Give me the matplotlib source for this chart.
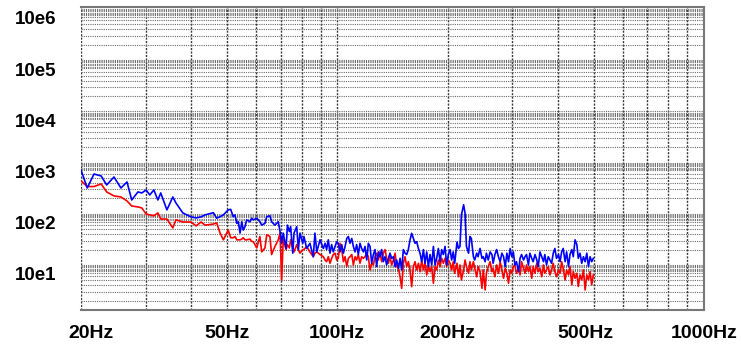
import numpy as np
import matplotlib.pyplot as plt
from matplotlib.ticker import FixedLocator, NullFormatter
from matplotlib.transforms import ScaledTranslation

plt.rcParams['font.family'] = ['Liberation Sans', 'DejaVu Sans']

# spectrum bins (Hz)
freq_hz = [
    20.0, 20.8, 21.7, 22.7, 23.5, 24.6, 25.7, 26.7, 27.5, 28.6, 29.3, 30.1,
    30.8, 31.6, 32.4, 33.0, 34.3, 35.6, 36.3, 37.9, 39.9, 41.2, 42.5,
    43.6, 45.9, 46.9, 47.9, 48.9, 50.4, 51.2, 52.0, 52.6, 53.2, 53.7, 54.3,
    54.9, 55.4, 56.0, 56.6, 57.8, 58.4, 59.0, 60.3, 61.5, 62.2, 63.5, 64.2,
    65.5, 66.2, 67.6, 69.0, 69.8, 70.5, 71.2, 72.5, 73.1, 74.0, 74.6, 75.6,
    76.2, 77.5, 78.3, 79.1, 80.5, 81.1, 82.5, 84.2, 86.0, 86.9, 87.9, 89.7, 91.6,
    92.6, 93.5, 94.5, 95.5, 96.5, 97.5, 98.6, 99.6, 100.6, 101.7, 102.8, 103.9,
    105.0, 106.1, 107.2, 108.3, 109.5, 110.6, 111.8, 112.9, 114.1, 115.3, 116.5,
    117.8, 119.0, 120.3, 121.5, 122.8, 124.1, 125.4, 126.7, 128.0, 129.4, 130.7,
    132.1, 133.5, 134.9, 136.3, 137.8, 139.2, 140.7, 142.2, 143.7, 145.2, 146.7,
    148.3, 149.8, 151.4, 153.0, 154.6, 156.2, 157.9, 159.5, 161.2, 162.9, 164.6,
    166.4, 168.1, 169.9, 171.7, 173.4, 175.3, 177.1, 179.0, 180.9, 182.8, 184.7,
    186.6, 188.6, 190.6, 192.6, 194.6, 196.7, 198.7, 200.8,
    203, 205, 207, 209, 212, 214, 216, 218, 221, 223, 225, 228, 230, 232, 235,
    237, 240, 242, 245, 248, 250, 253, 255, 258, 261, 264, 266, 269, 272, 275,
    278, 281, 284, 287, 290, 293, 296, 299, 302, 305, 308, 312, 315, 318, 322,
    325, 328, 332, 335, 339, 342, 346, 350, 353, 357, 361, 365, 368, 372, 376,
    380, 384, 388, 392, 396, 401, 405, 409, 413, 418, 422, 427, 431, 436, 440,
    445, 450, 454, 459, 464, 469, 474, 479, 484, 489, 494, 499,
]

blue_level = [
    716, 319, 598, 547, 365, 523, 319, 418, 186, 267, 255, 292,
    233, 292, 186, 255, 119, 213, 163, 104, 87, 83, 87,
    95, 105, 82, 88, 95, 119, 122, 88, 95, 65, 70, 42,
    70, 48, 56, 76, 70, 82, 76, 82, 70, 60, 65, 88,
    91, 70, 60, 70, 45, 26.5, 42, 21, 60, 45, 56, 17,
    42, 56, 20, 42, 26.5, 36, 21, 26.5, 14.5, 42, 18, 31, 21,
    26.5, 20, 31, 17, 25, 18, 23, 28.5, 26.5, 18, 25, 17,
    23, 33, 36, 26.5, 33, 23, 18, 25, 16, 26.5, 21,
    18, 23, 12.5, 26.5, 23, 10.8, 16, 20, 9.3, 18, 14.5,
    20, 11.6, 14.5, 10, 13.5, 17, 13.5, 14.5, 9.3, 12.5, 8.6,
    13.5, 8, 20, 17, 16, 20, 31, 41.6, 33, 26.5, 28.5,
    21, 17, 11.6, 20, 10.8, 18, 9.3, 16, 10, 23, 10,
    13.5, 21, 11.6, 20, 16, 23, 10, 16,
    20, 12.5, 18, 10.8, 28, 21, 23, 95, 150, 103, 23, 17, 36, 33, 14.5,
    12.5, 17, 14.5, 21, 13.5, 14.5, 11.6, 17, 12.5, 18, 16, 10.8, 16, 20, 14.5,
    11.6, 17, 14.5, 9.3, 17, 11.6, 21, 14.5, 18, 10, 11.6, 7.4, 13.5, 16, 12.5,
    14.5, 16, 10, 17, 13.5, 11.6, 16, 12.5, 9.3, 18, 14.5, 11.6, 16, 10, 14.5,
    12.5, 10.8, 17, 21, 13.5, 16, 11.6, 18, 21, 11.6, 18, 9.3, 16, 20, 14.5,
    31, 25, 13.5, 17, 10.8, 14.5, 11.6, 17, 9.3, 14.5, 11.6, 13.5,
]

red_level = [
    440, 340, 340, 382, 267, 223, 213, 178, 142, 136, 130, 99,
    95, 91, 104, 79, 79, 53, 76, 69, 69, 58, 69,
    60, 63, 66, 42, 31, 48, 34, 34, 36, 31, 31, 31,
    32, 34, 31, 31, 32, 29, 28.5, 21.5, 36, 18, 21.5, 39,
    36, 16, 23, 31, 42, 5.1, 31, 20, 25, 21.5, 31, 21.5,
    18, 25, 20, 17, 20, 20, 23, 18, 14.5, 17, 18, 16, 14.5,
    12.5, 11.6, 14.5, 10.8, 13.5, 16, 17, 12.5, 13.5, 26.5, 20, 11.6,
    14.5, 9.3, 13.5, 14.5, 16, 10, 14.5, 12.5, 16, 10.8, 14.5,
    13.5, 14.5, 17, 14.5, 8, 10.8, 10, 14.5, 17, 12.5, 18,
    11.6, 17, 20, 13.5, 10.8, 14.5, 10, 12.5, 17, 9.3, 8.6,
    5.9, 3.5, 10.8, 14.5, 9.3, 11.6, 8, 3.77, 9.3, 11.6, 8,
    10.8, 7.4, 12.5, 8, 10.8, 6.4, 10, 7.4, 9.3, 4.4, 9.3,
    8, 12.5, 9.3, 13.5, 10.8, 13.5, 9.3, 12.5,
    10.8, 8, 11.6, 6.9, 10.8, 5.9, 10, 5.1, 8, 12.5, 9.3, 6.9, 11.6, 8, 11.6,
    8.6, 5.9, 9.3, 7.4, 3.5, 8, 3.25, 6.9, 9.3, 11.6, 7.4, 8.6, 5.9, 10, 6.9,
    11.6, 8, 5.5, 8.6, 6.9, 4.4, 8, 6.9, 9.3, 10, 6.9, 8.6, 6.4, 11.6, 8.6,
    6.9, 10, 7.4, 9.3, 5.5, 9.3, 6.9, 10.8, 7.4, 8.6, 5.9, 10, 6.9, 8, 9.3,
    6.4, 8, 10.8, 7.4, 5.9, 8, 6.9, 11.6, 8.6, 5.1, 8, 6.4, 9.3, 4.1, 7.4,
    5.5, 6.9, 3.8, 6.4, 5.1, 8, 3.25, 6.4, 5.1, 7.4, 4.1, 6.4,
]

x_ticks = [20, 50, 100, 200, 500, 1000]
x_labels = ['20Hz', '50Hz', '100Hz', '200Hz', '500Hz', '1000Hz']
x_minor = [30, 40, 60, 70, 80, 90, 300, 400, 600, 700, 800, 900]
y_ticks = [1e1, 1e2, 1e3, 1e4, 1e5, 1e6]
y_labels = ['10e1', '10e2', '10e3', '10e4', '10e5', '10e6']

fig = plt.figure(figsize=(7.41, 3.44), dpi=100)
ax = fig.add_axes([0.1093, 0.0988, 0.8408, 0.881])

ax.plot(freq_hz, red_level, color='#ff0000', lw=1.2)
ax.plot(freq_hz, blue_level, color='#0000ff', lw=1.2)

ax.set_xscale('log')
ax.set_yscale('log')
ax.set_xlim(20, 1000)
ax.set_ylim(1.32, 1.094e6)

ax.xaxis.set_major_locator(FixedLocator(x_ticks))
ax.xaxis.set_minor_locator(FixedLocator(x_minor))
ax.xaxis.set_minor_formatter(NullFormatter())
ax.set_xticklabels(x_labels)

# minor lines per decade, with extra half steps near the top (dense band look)
subs = [2, 3, 4, 5, 6, 7, 7.5, 8, 8.5, 9, 9.5]
y_minor = [m * 10.0 ** e for e in range(0, 6) for m in subs]
ax.yaxis.set_major_locator(FixedLocator(y_ticks))
ax.yaxis.set_minor_locator(FixedLocator(y_minor))
ax.yaxis.set_minor_formatter(NullFormatter())
ax.set_yticklabels(y_labels)

ax.grid(True, axis='y', which='both', color='#6a6a6a', linestyle=(0, (1, 1)), linewidth=0.8)
ax.grid(True, axis='x', which='both', color='#3a3a3a', linestyle=(0, (1.5, 1)), linewidth=1.0)
ax.set_axisbelow(True)

ax.tick_params(which='both', length=0)
ax.tick_params(axis='x', pad=11, labelsize=14)
ax.tick_params(axis='y', pad=18, labelsize=13.5)
for lab in ax.get_xticklabels() + ax.get_yticklabels():
    lab.set_fontweight('bold')

# labels in the original sit a bit off their grid lines
down = ScaledTranslation(0, -9 / 100, fig.dpi_scale_trans)
for lab in ax.get_yticklabels():
    lab.set_transform(lab.get_transform() + down)
xl = ax.get_xticklabels()
xl[0].set_transform(xl[0].get_transform() + ScaledTranslation(10 / 100, 0, fig.dpi_scale_trans))
xl[4].set_transform(xl[4].get_transform() + ScaledTranslation(-8 / 100, 0, fig.dpi_scale_trans))

ax.spines['left'].set_visible(False)
for s in ['top', 'right', 'bottom']:
    ax.spines[s].set_color('#777777')
    ax.spines[s].set_linewidth(1.5)

fig.savefig('out.png', dpi=100)
